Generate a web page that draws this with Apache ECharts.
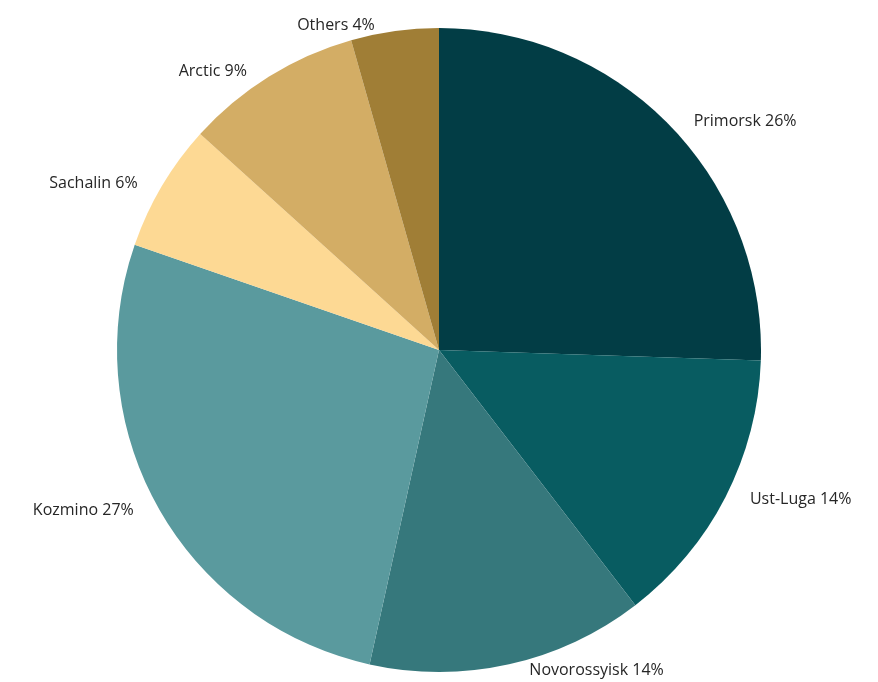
<!DOCTYPE html>
<html>
<head>
<meta charset="utf-8">
<script src="https://cdn.jsdelivr.net/npm/echarts@6/dist/echarts.min.js"></script>
<style>
  html, body { margin: 0; padding: 0; background: #fff; }
  #chart { width: 878px; height: 682px; }
</style>
</head>
<body>
<div id="chart"></div>
<script>
var ports = ["Primorsk", "Ust-Luga", "Novorossyisk", "Kozmino", "Sachalin", "Arctic", "Others"];
var shares = [25.52, 14.05, 13.9, 26.85, 6.4, 8.9, 4.4];
var colors = ["#023d45", "#085c61", "#36787c", "#5a9a9e", "#fdd994", "#d3ad65", "#a07e36"];

var data = [];
for (var i = 0; i < ports.length; i++) {
  data.push({ name: ports[i], value: shares[i], itemStyle: { color: colors[i] } });
}

var chart = echarts.init(document.getElementById('chart'));
chart.setOption({
  animation: false,
  series: [{
    type: 'pie',
    center: [439, 350],
    radius: 322,
    startAngle: 90,
    clockwise: true,
    avoidLabelOverlap: false,
    itemStyle: { borderWidth: 0 },
    label: {
      show: true,
      position: 'outside',
      fontFamily: '"Open Sans", sans-serif',
      fontSize: 16,
      color: '#262626',
      formatter: function (p) {
        return p.name + ' ' + Math.round(p.percent) + '%';
      }
    },
    labelLine: { show: false, length: 6, length2: 14 },
    data: data
  }]
});
</script>
</body>
</html>
